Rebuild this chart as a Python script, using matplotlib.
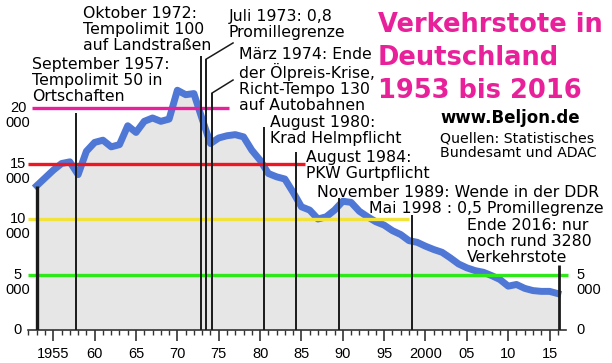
"""
Verkehrstote in Deutschland 1953 bis 2016
"""
import matplotlib
matplotlib.use("Agg")
import matplotlib.pyplot as plt
from matplotlib import transforms

# Verkehrstote pro Jahr
years = list(range(1953, 2017))
deaths = [13000, 13700, 14400, 15000, 15150, 14000, 16100, 16900, 17100, 16500,
          16700, 18400, 17800, 18800, 19100, 18800, 19000, 21600, 21200, 21300,
          19000, 16800, 17300, 17500, 17600, 17400, 16200, 15300, 14100, 13800,
          13600, 12400, 11100, 10800, 10000, 10200, 10800, 11600, 11500, 10700,
          10200, 9750, 9450, 8950, 8600, 8050, 7900, 7550, 7250, 7000,
          6500, 5950, 5600, 5350, 5200, 4900, 4550, 3950, 4100, 3750,
          3550, 3480, 3480, 3280]

# Referenzlinien
ref_values = [20000, 15000, 10000, 5000]
ref_starts = [1952.4, 1951.94, 1951.94, 1951.94]
ref_ends = [1976.2, 1985.4, 1998.0, 2017.2]
ref_colors = ["#e8219b", "#ee1620", "#f2e23c", "#2fe81a"]

# Ereignisse: senkrechte Linien
event_years = [1953, 1957.75, 1972.8, 1973.5, 1974.2, 1980.5, 1984.4, 1989.6, 1998.35, 2016.1]
event_tops = [deaths[0], 19550, 24680, 24410, 21350, 18290, 16040, 11890, 10360, 5860]
event_widths = [2.4, 1.4, 1.4, 1.4, 1.4, 1.4, 1.4, 1.4, 1.4, 2.0]

tick_years = list(range(1955, 2016, 5))
tick_labels = ["1955", "60", "65", "70", "75", "80", "85", "90", "95", "2000", "05", "10", "15"]

left_labels = [0, 5000, 10000, 15000, 20000]
right_labels = [0, 5000]


def px(x, y):
    """Pixelposition (von oben links) in Figurkoordinaten"""
    return x / 612, 1 - y / 363


fig = plt.figure(figsize=(6.12, 3.63), dpi=100)
ax = fig.add_axes([28 / 612, 33 / 363, 538 / 612, 330 / 363])
ax.set_xlim(1951.94, 2016.99)
ax.set_ylim(0, 29730)

ax.fill_between(years, deaths, 0, color="#e6e6e6", lw=0, zorder=1)
ax.plot(years, deaths, color="#4f77d6", lw=5, solid_joinstyle="round", zorder=3)

for v, x0, x1, c in zip(ref_values, ref_starts, ref_ends, ref_colors):
    ax.plot([x0, x1], [v, v], color=c, lw=2.4, zorder=4, clip_on=False,
            solid_capstyle="butt")

for x, top, w in zip(event_years, event_tops, event_widths):
    ax.plot([x, x], [0, top], color="#1a1a1a", lw=w, zorder=5, solid_capstyle="butt")

# Hinweislinien zu Juli 1973 und März 1974
ax.plot([event_years[3], 1976.73], [event_tops[3], 25860], color="#1a1a1a", lw=1.1, zorder=5)
ax.plot([event_years[4], 1976.73], [event_tops[4], 22520], color="#1a1a1a", lw=1.1, zorder=5)

for s in ["left", "right", "top"]:
    ax.spines[s].set_visible(False)
ax.spines["bottom"].set_color("#333333")
ax.spines["bottom"].set_linewidth(1.2)
ax.set_yticks([])
ax.set_xticks(tick_years)
ax.set_xticklabels(tick_labels, family="Liberation Sans", fontsize=10.5)
ax.set_xticks(range(1952, 2017), minor=True)
ax.tick_params(axis="x", which="major", length=8, width=1.2, color="#333333", pad=4)
ax.tick_params(axis="x", which="minor", length=3.5, width=1.0, color="#333333")

trans_l = transforms.blended_transform_factory(fig.transFigure, ax.transData)
for v in left_labels:
    head = str(v // 1000) if v else "0"
    ax.text(18 / 612, v, head, transform=trans_l, ha="center", va="center",
            family="Liberation Sans", fontsize=10.5)
    if v:
        ax.annotate("000", xy=(18 / 612, v), xycoords=trans_l, xytext=(0, -11),
                    textcoords="offset points", ha="center", va="center",
                    family="Liberation Sans", fontsize=10.5)
for v in right_labels:
    head = str(v // 1000) if v else "0"
    ax.text(576 / 612, v, head, transform=trans_l, ha="left", va="center",
            family="Liberation Sans", fontsize=10.5)
    if v:
        ax.annotate("000", xy=(576 / 612, v), xycoords=trans_l, xytext=(0, -11),
                    textcoords="offset points", ha="left", va="center",
                    family="Liberation Sans", fontsize=10.5)

notes = [
    (83, 6, "Oktober 1972:\nTempolimit 100\nauf Landstraßen"),
    (32, 57, "September 1957:\nTempolimit 50 in\nOrtschaften"),
    (229, 9, "Juli 1973: 0,8\nPromillegrenze"),
    (239, 47, "März 1974: Ende\nder Ölpreis-Krise,\nRicht-Tempo 130\nauf Autobahnen"),
    (270, 115, "August 1980:\nKrad Helmpflicht"),
    (306, 150, "August 1984:\nPKW Gurtpflicht"),
    (317, 185, "November 1989: Wende in der DDR"),
    (369, 201, "Mai 1998 : 0,5 Promillegrenze"),
    (467, 218, "Ende 2016: nur\nnoch rund 3280\nVerkehrstote"),
]
for x, y, s in notes:
    fx, fy = px(x, y)
    fig.text(fx, fy, s, ha="left", va="top", fontsize=11.3, linespacing=1.07,
             family="DejaVu Sans", color="black")

fx, fy = px(378, 12)
fig.text(fx, fy, "Verkehrstote in\nDeutschland\n1953 bis 2016", ha="left", va="top",
         fontsize=18.5, fontweight="bold", color="#e8219b", linespacing=1.35)
fx, fy = px(440, 109)
fig.text(fx, fy, "www.Beljon.de", ha="left", va="top", fontsize=12, fontweight="bold")
fx, fy = px(440, 132)
fig.text(fx, fy, "Quellen: Statistisches\nBundesamt und ADAC", ha="left", va="top",
         fontsize=10.2, linespacing=1.0)

fig.savefig("out.png", dpi=100)
